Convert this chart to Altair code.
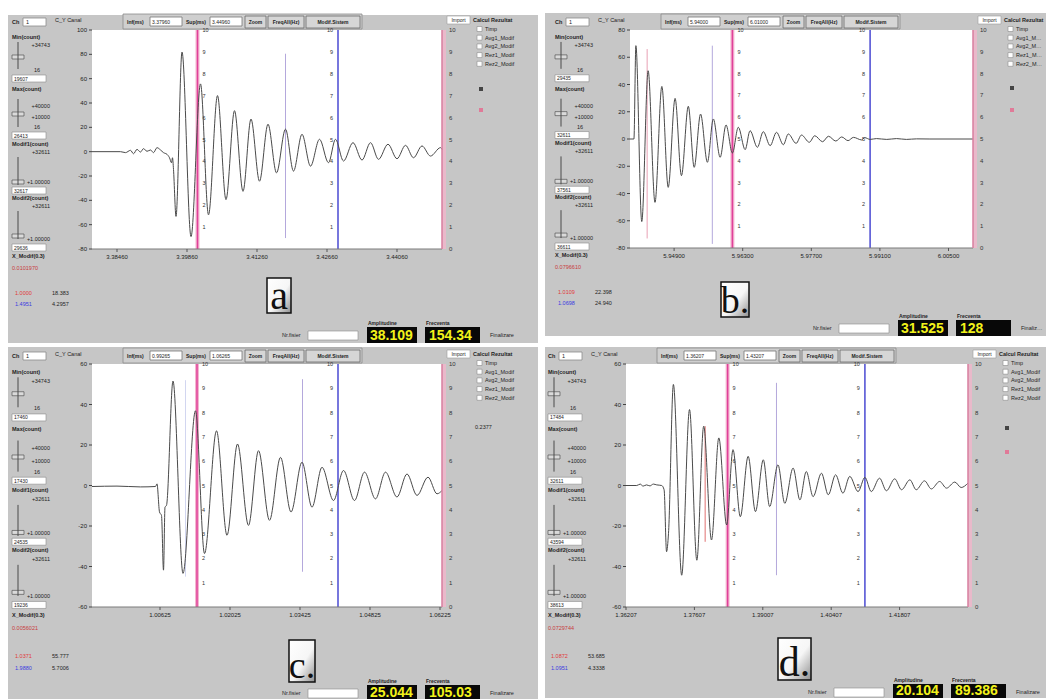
import altair as alt
import pandas as pd

FONT = "Liberation Sans"
SERIF = "Liberation Serif"
PANEL_GREY = "#c6c6c6"
INK = "#1e1e1e"

# ---------------- panel a ----------------
A_T = [0, 5.7, 6.7, 7.7, 8.3, 9.0, 9.7, 10.3, 11.0, 11.7, 12.3, 13.0, 13.7, 14.3, 15.0, 15.5, 15.9, 16.1, 16.3, 16.8,
       18.0, 19.8, 21.7, 23.3, 25.1, 26.8, 28.5, 30.2, 31.8, 33.5, 35.2, 36.9, 38.7, 40.3, 42.0, 43.7, 45.5, 47.3, 48.7,
       50.3, 52.2, 54.0, 55.7, 57.3, 59.2, 61.0, 62.7, 64.3, 66.0, 67.7, 69.7, 70.0]
A_V = [0, 0, -0.8, 1.1, -1.7, 1.9, -0.3, 2.5, 0.3, 1.4, -0.8, 3.3, 1.4, -0.8, -2.2, -5.0, -9.1, -5.0, -14.6, -53.2,
       81.9, -69.8, 55.7, -51.9, 46.1, -39.4, 33.7, -32.6, 26.8, -24.3, 22.6, -17.4, 18.5, -16.0, 14.3, -11.9, 10.2, -9.1,
       10.2, -7.7, 7.4, -6.9, 7.4, -6.3, 6.1, -5.8, 5.2, -5.0, 4.7, -3.6, 3.3, 1.9]
A_YTICKS = [-80, -60, -40, -20, 0, 20, 40, 60, 80, 100]
A_XTICKS = [5, 19, 33, 47, 61]
A_XLABELS = ["3.38460", "3.39860", "3.41260", "3.42660", "3.44060"]
A_PINK, A_BLUE = 21.1, 49.2
A_MARK_T, A_MARK_TOP, A_MARK_BOT, A_MARK_COL = [38.7], [80.5], [-71.0], ["#b4a8dc"]

# ---------------- panel b ----------------
B_T = [0, 0.8, 1.2, 2.4, 3.7, 5.1, 6.5, 7.8, 9.2, 10.5, 11.9, 13.1, 14.4, 15.8, 17.0, 18.4, 19.6, 20.9, 22.1, 23.5,
       24.5, 26.0, 27.2, 28.6, 29.9, 31.3, 32.3, 33.9, 35.0, 36.6, 37.7, 39.3, 40.5, 42.0, 43.2, 44.5, 45.6, 47.3, 47.9,
       49.0, 50.3, 52.4, 54.4, 56.4, 58.5, 61.2, 70.0]
B_V = [0, 0, 68.5, -60.6, 50.1, -46.5, 38.6, -35.5, 29.8, -26.9, 24.0, -20.8, 18.3, -17.1, 14.7, -13.4, 10.3, -10.3,
       8.6, -7.8, 6.1, -6.1, 5.4, -4.9, 4.9, -4.2, 3.7, -3.2, 2.9, -2.4, 2.4, -2.0, 2.0, -1.5, 1.5, -1.2, 1.2, -0.7, 1.0,
       -0.3, 0.3, -0.3, 0.3, -0.3, 0.1, 0, 0]
B_YTICKS = [-80, -60, -40, -20, 0, 20, 40, 60, 80]
B_XTICKS = [9, 23, 37, 51, 65]
B_XLABELS = ["5.94900", "5.96300", "5.97700", "5.99100", "6.00500"]
B_PINK, B_BLUE = 20.9, 49.0
B_MARK_T, B_MARK_TOP, B_MARK_BOT, B_MARK_COL = [3.5, 16.8], [66.0, 68.5], [-73.0, -77.0], ["#e8a0b4", "#b4a8dc"]

# ---------------- panel c ----------------
C_T = [0, 5.0, 9.7, 12.7, 13.0, 13.5, 13.9, 14.3, 14.6, 14.9, 16.2, 18.2, 20.7, 22.5, 24.9, 27.0, 29.1, 31.3, 33.3,
       35.5, 37.7, 39.8, 42.0, 44.0, 46.0, 48.3, 50.3, 52.5, 54.5, 56.7, 58.7, 61.0, 63.0, 65.0, 67.2, 69.0, 70.0]
C_V = [-0.5, -0.3, -0.7, -0.5, 0.8, -13.1, -14.8, -41.8, -10.7, -9.8, 51.6, -43.4, 36.9, -33.6, 27.0, -24.6, 20.5,
       -19.7, 17.2, -17.2, 13.9, -13.1, 11.5, -10.7, 9.0, -7.4, 7.4, -7.4, 6.6, -6.6, 6.6, -5.7, 5.7, -4.9, 4.1, -4.1, -2.5]
C_YTICKS = [-60, -40, -20, 0, 20, 40, 60]
C_XTICKS = [13.6, 27.6, 41.6, 55.6, 69.6]
C_XLABELS = ["1.00625", "1.02025", "1.03425", "1.04825", "1.06225"]
C_PINK, C_BLUE = 21.0, 49.2
C_MARK_T, C_MARK_TOP, C_MARK_BOT, C_MARK_COL = [18.7, 42.1], [52.0, 52.5], [-45.0, -42.6], ["#d2d6f0", "#b4a8dc"]

# ---------------- panel d ----------------
D_T = [0, 2.2, 2.9, 3.5, 4.2, 4.9, 5.6, 6.3, 7.3, 7.8, 8.3, 8.7, 9.7, 11.4, 13.0, 14.5, 15.9, 17.5, 19.0, 20.6, 21.9,
       23.4, 25.0, 26.5, 28.1, 29.4, 31.1, 32.5, 34.2, 35.6, 36.9, 38.3, 40.0, 41.4, 42.9, 44.4, 45.8, 47.5, 48.9, 50.2,
       51.9, 53.3, 55.0, 56.4, 58.1, 59.4, 61.1, 62.5, 64.2, 65.6, 67.3, 68.6, 70.0]
D_V = [0, 0, 0.7, -0.3, 0.3, -0.2, 0.7, 0.3, 0, -2.1, -32.7, -23.6, 49.9, -44.3, 37.5, -36.9, 29.3, -26.9, 23.5, -19.5,
       17.7, -15.4, 14.4, -12.9, 12.7, -10.4, 10.2, -8.8, 8.6, -7.1, 6.9, -5.5, 6.1, -4.6, 5.3, -3.8, 4.5, -3.0, 4.0,
       -3.0, 3.6, -2.6, 3.3, -2.1, 2.8, -2.1, 2.3, -1.7, 2.0, -1.3, 1.7, -1.0, 1.2]
D_YTICKS = [-60, -40, -20, 0, 20, 40, 60]
D_XTICKS = [0, 14, 28, 42, 56]
D_XLABELS = ["1.36207", "1.37607", "1.39007", "1.40407", "1.41807"]
D_PINK, D_BLUE = 20.8, 48.9
D_MARK_T, D_MARK_TOP, D_MARK_BOT, D_MARK_COL = [16.2, 30.8], [29.3, 50.7], [-27.8, -44.3], ["#e07070", "#b4a8dc"]

RIGHT_TICKS = [0, 1, 2, 3, 4, 5, 6, 7, 8, 9, 10]
CURSOR_LEVELS = [1, 2, 3, 4, 5, 6, 7, 8, 9, 10]
CHECK_NAMES = ["Timp", "Avg1_Modif", "Avg2_Modif", "Rez1_Modif", "Rez2_Modif"]
SLIDER_VALUES = [(15, "+34743"), (76, "+40000"), (87, "+10000"), (122, "+32611"), (152, "+1.00000"),
                 (176, "+32611"), (209, "+1.00000")]

PANELS = [
    dict(W=350, H=219, L=84, T=15, R=96, B=94, top=0, lx=4, t=A_T, v=A_V, ydom=[-80, 100], yt=A_YTICKS,
         xt=A_XTICKS, xl=A_XLABELS, pink=A_PINK, blue=A_BLUE,
         mk=(A_MARK_T, A_MARK_TOP, A_MARK_BOT, A_MARK_COL), letter="a", lbox=(175, 29, 199, 64), lsize=40,
         amp="38.109", freq="154.34", bt=78, inf="3.37960", sup="3.44960",
         inputs=["19607", "26413", "32617", "29636"], xmod="0.0101970",
         red=("1.0000", "18.383"), blu=("1.4951", "4.2957"), dots=[59, 80], note=""),
    dict(W=343, H=218, L=85, T=17, R=73, B=88, top=5, lx=10, t=B_T, v=B_V, ydom=[-80, 80], yt=B_YTICKS,
         xt=B_XTICKS, xl=B_XLABELS, pink=B_PINK, blue=B_BLUE,
         mk=(B_MARK_T, B_MARK_TOP, B_MARK_BOT, B_MARK_COL), letter="b.", lbox=(91, 34, 119, 69), lsize=38,
         amp="31.525", freq="128", bt=72, inf="5.94000", sup="6.01000",
         inputs=["29435", "32611", "37561", "36611"], xmod="0.0796610",
         red=("1.0109", "22.398"), blu=("1.0698", "24.940"), dots=[58, 80], note=""),
    dict(W=350, H=243, L=84, T=17, R=96, B=93, top=0, lx=4, t=C_T, v=C_V, ydom=[-60, 60], yt=C_YTICKS,
         xt=C_XTICKS, xl=C_XLABELS, pink=C_PINK, blue=C_BLUE,
         mk=(C_MARK_T, C_MARK_TOP, C_MARK_BOT, C_MARK_COL), letter="c.", lbox=(197, 33, 223, 75), lsize=38,
         amp="25.044", freq="105.03", bt=78, inf="0.99265", sup="1.06265",
         inputs=["17460", "17430", "24535", "19236"], xmod="0.0056021",
         red=("1.0371", "55.777"), blu=("1.9880", "5.7006"), dots=[], note="0.2377"),
    dict(W=342, H=243, L=81, T=17, R=78, B=91, top=2, lx=3, t=D_T, v=D_V, ydom=[-60, 60], yt=D_YTICKS,
         xt=D_XTICKS, xl=D_XLABELS, pink=D_PINK, blue=D_BLUE,
         mk=(D_MARK_T, D_MARK_TOP, D_MARK_BOT, D_MARK_COL), letter="d.", lbox=(152, 31, 185, 73), lsize=42,
         amp="20.104", freq="89.386", bt=77, inf="1.36207", sup="1.43207",
         inputs=["17484", "32611", "43594", "38613"], xmod="0.0729744",
         red=("1.0872", "53.685"), blu=("1.0951", "4.3338"), dots=[64, 88], note=""),
]


def panel(p):
    W, H, L, T, R, B = p["W"], p["H"], p["L"], p["T"], p["R"], p["B"]
    k = H / 219.0
    lx = -L + p["lx"]
    lo, hi = p["ydom"]
    rects, texts, rules = [], [], []

    def rect(x1, y1, x2, y2, fill, stroke="transparent", sw=0.0):
        rects.append({"x1": x1, "y1": y1, "x2": x2, "y2": y2, "f": fill, "s": stroke, "sw": sw})

    def txt(x, y, t, c=INK, z=5.5, bold=False, align="left", lim=0, base="middle"):
        texts.append({"x": x, "y": y, "t": t, "c": c, "z": z, "g": (bold, align, lim, base)})

    def rule(x, y1, y2, c="#4a4a4a", sw=1.0):
        rules.append({"x": x, "y1": y1, "y2": y2, "c": c, "sw": sw})

    # frame and plot background
    if p["top"]:
        rect(-L, -T - p["top"], W + R, -T, "white")
    rect(-L, -T, W + R, H + B, PANEL_GREY)
    rect(0, 0, W, H, "white")
    rect(W, 0, W + 4, H, "#e9b9ca")

    # top-left controls
    ty = -8
    txt(lx, ty, "Ch", bold=True)
    rect(lx + 11, ty - 4, lx + 34, ty + 4, "white", "#8a8a8a", 0.8)
    txt(lx + 14, ty, "1")
    txt(lx + 43, ty - 2, "C_Y Canal")
    # toolbar
    rect(31, -16, 270, -1, "#cfcfcf", "#8a8a8a", 0.8)
    txt(35, ty, "Inf(ms)", bold=True, z=5)
    rect(58, -13, 90, -4, "white", "#777777", 0.8)
    txt(60, ty - 0.5, p["inf"], z=5)
    txt(94, ty, "Sup(ms)", bold=True, z=5)
    rect(118, -13, 150, -4, "white", "#777777", 0.8)
    txt(120, ty - 0.5, p["sup"], z=5)
    for x1, x2, lab in [(153, 174, "Zoom"), (176, 212, "FreqAll(Hz)"), (214, 268, "Modif.Sistem")]:
        rect(x1, -14, x2, -2, "#d6d6d6", "#6a6a6a", 0.8)
        txt((x1 + x2) / 2, ty, lab, bold=True, z=5, align="center")

    # top-right controls
    rect(W + 5, -14, W + 28, -6, "white", "#9a9a9a", 0.6)
    txt(W + 16.5, -10, "Import", z=5, align="center")
    txt(W + 31, -10, "Calcul Rezultat", bold=True, z=5.5, lim=R - 33)
    for i, name in enumerate(CHECK_NAMES):
        yy = -1 + i * 8.7
        rect(W + 35, yy - 2.5, W + 40, yy + 2.5, "white", "#8a8a8a", 0.6)
        txt(W + 43, yy, name, z=5.5, lim=R - 45)
    if p["dots"]:
        rect(W + 37, p["dots"][0] - 2, W + 41, p["dots"][0] + 2, "#444444")
        rect(W + 37, p["dots"][1] - 2, W + 41, p["dots"][1] + 2, "#e07a98")
    if p["note"]:
        txt(W + 33, 63, p["note"], z=5.5)

    # left slider column
    for yl, name in [(7, "Min(count)"), (59, "Max(count)"), (114, "Modif1(count)"), (168, "Modif2(count)"),
                     (226, "X_Modif(0.3)")]:
        txt(lx, yl * k, name, bold=True, z=5.5)
    for yv, val in SLIDER_VALUES:
        txt(lx + 38, yv * k, val, z=5.5, align="right")
    for yv in (40, 97):
        txt(lx + 22, yv * k, "16", z=5.5)
    for y1, y2 in [(12, 39), (69, 97), (127, 155), (181, 209)]:
        rule(lx + 6, y1 * k, y2 * k, "#4a4a4a", 1.0)
    for yt in (25, 82, 150, 204):
        rect(lx, yt * k, lx + 12, yt * k + 4, "#dadada", "#555555", 0.7)
    for i, yb in enumerate((45, 102, 157, 214)):
        rect(lx, yb * k, lx + 34, yb * k + 7, "white", "#8a8a8a", 0.6)
        txt(lx + 2, yb * k + 3.5, p["inputs"][i], z=5)
    txt(lx, 238 * k, p["xmod"], c="#c83c3c", z=5.5)
    txt(lx + 3, H + 44 * k, p["red"][0], c="#e03a3a", z=5.5)
    txt(lx + 40, H + 44 * k, p["red"][1], z=5.5)
    txt(lx + 3, H + 55 * k, p["blu"][0], c="#3a3ae0", z=5.5)
    txt(lx + 40, H + 55 * k, p["blu"][1], z=5.5)

    # bottom-right displays
    bt = p["bt"]
    txt(W - 160, H + bt + 8, "Nr.fisier", z=5.5)
    rect(W - 134, H + bt + 4, W - 84, min(H + bt + 13, H + B), "white", "#8a8a8a", 0.6)
    txt(W - 74, H + bt - 4, "Amplitudine", bold=True, z=5)
    rect(W - 75, H + bt, W - 25, H + B, "#080808")
    txt(W - 72, H + B - 3, p["amp"], c="#f2f21a", z=14, bold=True, base="alphabetic")
    txt(W - 16, H + bt - 4, "Frecventa", bold=True, z=5)
    rect(W - 17, H + bt, W + 38, H + B, "#080808")
    txt(W - 13, H + B - 3, p["freq"], c="#f2f21a", z=14, bold=True, base="alphabetic")
    txt(W + 48, H + bt + 8, "Finalizare", z=5.5, lim=R - 50)

    one = pd.DataFrame({"k": [0]})
    layers = []

    layers.append(alt.Chart(pd.DataFrame(rects)).mark_rect().encode(
        x=alt.X("x1:Q", scale=None, axis=None), x2="x2:Q",
        y=alt.Y("y1:Q", scale=None, axis=None), y2="y2:Q",
        fill=alt.Fill("f:N", scale=None), stroke=alt.Stroke("s:N", scale=None),
        strokeWidth=alt.StrokeWidth("sw:Q", scale=None)))

    xs = alt.Scale(domain=[0, 70], nice=False, zero=False)
    ys = alt.Scale(domain=p["ydom"], nice=False, zero=False)

    def X(f):
        return alt.X(f, scale=xs, axis=None)

    def Y(f):
        return alt.Y(f, scale=ys, axis=None)

    mt, mtop, mbot, mcol = p["mk"]
    layers.append(alt.Chart(pd.DataFrame({"t": mt, "v1": mtop, "v2": mbot, "c": mcol})).mark_rule(
        strokeWidth=1).encode(x=X("t:Q"), y=Y("v1:Q"), y2="v2:Q", color=alt.Color("c:N", scale=None)))

    cur = pd.DataFrame({"t": [p["pink"], p["pink"], p["blue"]],
                        "c": ["#f4b6d0", "#e0409a", "#4a4ad2"], "w": [4.0, 1.5, 1.5]})
    layers.append(alt.Chart(cur).mark_rule().encode(
        x=X("t:Q"), y=alt.value(0), y2=alt.value(H),
        color=alt.Color("c:N", scale=None), strokeWidth=alt.StrokeWidth("w:Q", scale=None)))

    layers.append(alt.Chart(pd.DataFrame({"t": p["t"], "v": p["v"]})).mark_line(
        interpolate="monotone", color="#4a4a4a", strokeWidth=1).encode(x=X("t:Q"), y=Y("v:Q")))

    # left value axis
    ylab = pd.DataFrame({"v": p["yt"], "lab": [str(v) for v in p["yt"]]})
    layers.append(alt.Chart(ylab).mark_text(align="right", baseline="middle", fontSize=6, font=FONT,
                                            color="#222222").encode(
        x=alt.value(-5), y=Y("v:Q"), text="lab:N"))
    layers.append(alt.Chart(ylab).mark_rule(color="#444444", strokeWidth=1).encode(
        x=alt.value(-3), x2=alt.value(0), y=Y("v:Q")))

    # bottom time axis
    xlab = pd.DataFrame({"t": p["xt"], "lab": p["xl"]})
    layers.append(alt.Chart(one).mark_rule(color="#7a7a7a", strokeWidth=1).encode(
        x=alt.value(0), x2=alt.value(W), y=alt.value(H)))
    layers.append(alt.Chart(xlab).mark_rule(color="#555555", strokeWidth=1).encode(
        x=X("t:Q"), y=alt.value(H), y2=alt.value(H + 3)))
    layers.append(alt.Chart(xlab).mark_text(align="center", baseline="middle", fontSize=6, font=FONT,
                                            color="#222222").encode(
        x=X("t:Q"), y=alt.value(H + 8), text="lab:N"))

    # cursor scales 0..10 placed on the value scale
    def lvl(r):
        return lo + r * (hi - lo) / 10.0

    pink_lab = pd.DataFrame({"t": [p["pink"]] * 10, "v": [lvl(r) for r in CURSOR_LEVELS],
                             "lab": [str(r) for r in CURSOR_LEVELS]})
    blue_lab = pd.DataFrame({"t": [p["blue"]] * 10, "v": [lvl(r) for r in CURSOR_LEVELS],
                             "lab": [str(r) for r in CURSOR_LEVELS]})
    layers.append(alt.Chart(pink_lab).mark_text(align="left", dx=5, fontSize=5.5, font=FONT,
                                                color="#333333").encode(x=X("t:Q"), y=Y("v:Q"), text="lab:N"))
    layers.append(alt.Chart(blue_lab).mark_text(align="right", dx=-5, fontSize=5.5, font=FONT,
                                                color="#333333").encode(x=X("t:Q"), y=Y("v:Q"), text="lab:N"))

    # right-hand 0..10 scale
    right_lab = pd.DataFrame({"v": [lvl(r) for r in RIGHT_TICKS], "lab": [str(r) for r in RIGHT_TICKS]})
    layers.append(alt.Chart(right_lab).mark_text(align="left", fontSize=6, font=FONT, color="#333333").encode(
        x=alt.value(W + 7), y=Y("v:Q"), text="lab:N"))
    layers.append(alt.Chart(one).mark_rule(color="#d77f9f", strokeWidth=1.5).encode(
        x=alt.value(W), y=alt.value(0), y2=alt.value(H)))

    # letter label box
    bx1, by1, bx2, by2 = p["lbox"]
    grad = alt.Gradient(gradient="linear", x1=0, y1=0, x2=1, y2=1,
                        stops=[alt.GradientStop(color="#ffffff", offset=0),
                               alt.GradientStop(color="#f6f6f6", offset=0.55),
                               alt.GradientStop(color="#8e8e8e", offset=1)])
    layers.append(alt.Chart(one).mark_rect(fill=grad, stroke="#111111", strokeWidth=1.5).encode(
        x=alt.value(bx1), x2=alt.value(bx2), y=alt.value(H + by1), y2=alt.value(H + by2)))
    layers.append(alt.Chart(one).mark_text(font=SERIF, fontSize=p["lsize"], align="center",
                                           baseline="alphabetic", color="#111111").encode(
        x=alt.value((bx1 + bx2) / 2), y=alt.value(H + by2 - 4), text=alt.value(p["letter"])))

    layers.append(alt.Chart(pd.DataFrame(rules)).mark_rule().encode(
        x=alt.X("x:Q", scale=None, axis=None), y=alt.Y("y1:Q", scale=None, axis=None), y2="y2:Q",
        color=alt.Color("c:N", scale=None), strokeWidth=alt.StrokeWidth("sw:Q", scale=None)))

    groups = {}
    for r in texts:
        groups.setdefault(r["g"], []).append({kk: vv for kk, vv in r.items() if kk != "g"})
    for (bold, align, lim, base), rows in groups.items():
        kw = dict(font=FONT, fontWeight="bold" if bold else "normal", align=align, baseline=base)
        if lim:
            kw["limit"] = lim
        layers.append(alt.Chart(pd.DataFrame(rows)).mark_text(**kw).encode(
            x=alt.X("x:Q", scale=None, axis=None), y=alt.Y("y:Q", scale=None, axis=None),
            text="t:N", color=alt.Color("c:N", scale=None), size=alt.Size("z:Q", scale=None)))

    return alt.layer(*layers).properties(width=W, height=H)


pa, pb, pc, pd_ = (panel(p) for p in PANELS)
chart = alt.vconcat(
    alt.hconcat(pa, pb, spacing=7),
    alt.hconcat(pc, pd_, spacing=7),
    spacing=2,
).properties(padding=0, background="white").configure_view(strokeWidth=0)

chart.save("out.html", embed_options={"renderer": "svg", "actions": False})
